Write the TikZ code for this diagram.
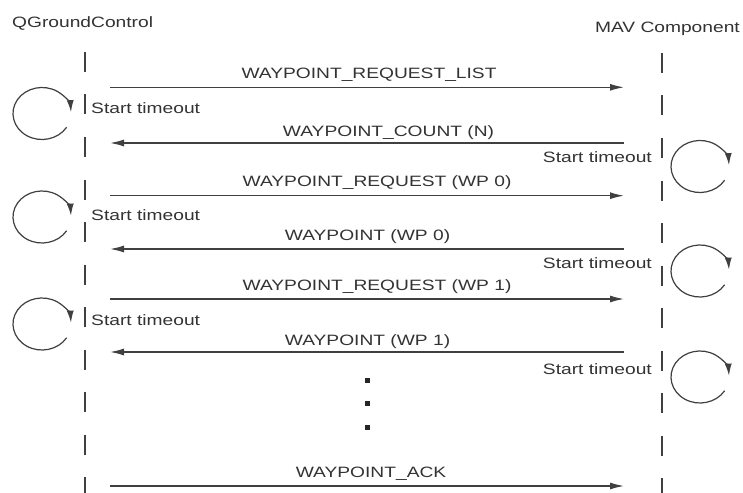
\documentclass[tikz,border=0pt]{standalone}
\usepackage{fontspec}
\setmainfont{Liberation Sans}[FakeStretch=1.28]
\usetikzlibrary{arrows.meta}
\definecolor{ink}{HTML}{404040}
\definecolor{txt}{HTML}{333333}
\begin{document}
\begin{tikzpicture}[x=1bp,y=-1bp,
  every node/.style={font=\fontsize{15bp}{18bp}\selectfont, text=txt, inner sep=0pt},
  msg/.style={draw=ink, line width=1.4bp, -{Latex[length=14bp,width=7bp]}},
  life/.style={draw=ink, line width=1.5bp, dash pattern=on 20bp off 22.5bp},
  loopar/.style={draw=ink, line width=1.2bp, -{Latex[length=12bp,width=7bp]}},
  dotmark/.style={fill=black!85, minimum size=5bp, inner sep=0pt, draw=none}]
\useasboundingbox[fill=white] (0,0) rectangle (743,493);

% headers
\node[anchor=base west] (qgc) at (12,28) {QGroundControl};
\node[anchor=base east] (mav) at (740,33) {MAV Component};

% lifelines
\coordinate (qtop) at (85,52);
\coordinate (qbot) at (85,493);
\coordinate (mtop) at (662,53);
\coordinate (mbot) at (662,493);
\draw[life] (qtop) -- (qbot);
\draw[life] (mtop) -- (mbot);

% message endpoints
\foreach \n/\y in {1/87.3,2/143,3/195.7,4/249,5/299,6/352,7/486}{
  \coordinate (L\n) at (110,\y);
  \coordinate (R\n) at (624,\y);
}
\draw[msg] (L1) -- (R1);
\draw[msg] (R2) -- (L2);
\draw[msg] (L3) -- (R3);
\draw[msg] (R4) -- (L4);
\draw[msg] (L5) -- (R5);
\draw[msg] (R6) -- (L6);
\draw[msg] (L7) -- (R7);

% message labels
\node[anchor=base] (m1) at (369,79) {WAYPOINT\_REQUEST\_LIST};
\node[anchor=base] (m2) at (388.5,136.5) {WAYPOINT\_COUNT (N)};
\node[anchor=base] (m3) at (377,187) {WAYPOINT\_REQUEST (WP 0)};
\node[anchor=base] (m4) at (367.5,240.5) {WAYPOINT (WP 0)};
\node[anchor=base] (m5) at (377,290.5) {WAYPOINT\_REQUEST (WP 1)};
\node[anchor=base] (m6) at (367.5,345.5) {WAYPOINT (WP 1)};
\node[anchor=base] (m7) at (371,477.5) {WAYPOINT\_ACK};

% timeout labels
\node[anchor=base west] (tl1) at (91,113.5) {Start timeout};
\node[anchor=base west] (tl2) at (91,220.5) {Start timeout};
\node[anchor=base west] (tl3) at (91,325.5) {Start timeout};
\node[anchor=base east] (tr1) at (652,162.5) {Start timeout};
\node[anchor=base east] (tr2) at (652,268.5) {Start timeout};
\node[anchor=base east] (tr3) at (652,374.5) {Start timeout};

% timeout loops
\foreach \c/\x/\y in {cl1/42/113.5, cl2/42/217, cl3/42/324, cr1/700/166.5, cr2/700/271, cr3/700/377}{
  \coordinate (\c) at (\x,\y);
  \draw[loopar] ([shift={(-32:29bp and 26bp)}]\c) arc[start angle=-32, end angle=-357, x radius=29bp, y radius=26bp];
}

% continuation dots
\node[dotmark] (d1) at (367,380) {};
\node[dotmark] (d2) at (367,403) {};
\node[dotmark] (d3) at (367,427) {};
\end{tikzpicture}
\end{document}
